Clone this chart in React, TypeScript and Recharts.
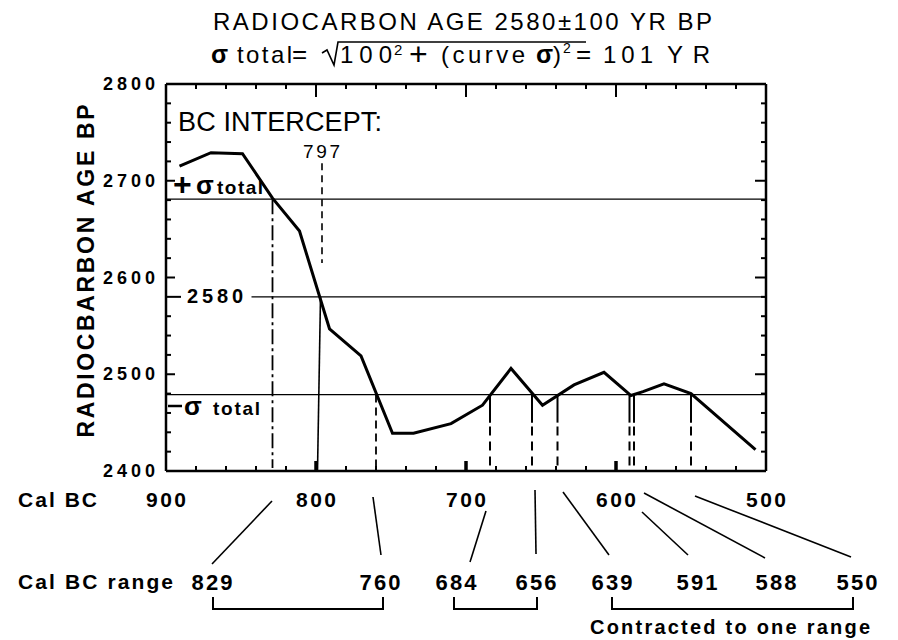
import React from 'react';
import { ComposedChart, Line, XAxis, YAxis, ReferenceLine } from 'recharts';

// ---- data ----
const curveYears = [891, 870, 849, 829, 811, 791, 770, 749, 735, 710, 689, 670, 649, 628, 608, 590, 582, 568, 550, 507];
const curveAges = [2715, 2729, 2728, 2682, 2648, 2547, 2519, 2439, 2439, 2449, 2468, 2506, 2468, 2489, 2502, 2478, 2482, 2490, 2480, 2422];

const measuredAge = 2580;
const sigmaTotal = 101;
const interceptYear = 797;
const upperInterceptYears = [829];
const dashedInterceptYears = [760];
const lowerInterceptYears = [684, 656, 639, 591, 588, 550];
const rangeLabels = ['829', '760', '684', '656', '639', '591', '588', '550'];
const xTicks = [500, 520, 540, 560, 580, 600, 620, 640, 660, 680, 700, 720, 740, 760, 780, 800, 820, 840, 860, 880, 900];
const yTicks = [2400, 2420, 2440, 2460, 2480, 2500, 2520, 2540, 2560, 2580, 2600, 2620, 2640, 2660, 2680, 2700, 2720, 2740, 2760, 2780, 2800];

const curveData = curveYears.map((year, i) => ({ year, age: curveAges[i] }));

// ---- layout ----
const W = 898;
const H = 640;
const PLOT_LEFT = 166;
const PLOT_TOP = 84;
const PLOT_W = 600;
const PLOT_H = 387;
const AX = 1; // axis band size
const FONT = '"Liberation Sans", Arial, Helvetica, sans-serif';

const X_MIN = 500;
const X_MAX = 900;
const Y_MIN = 2400;
const Y_MAX = 2800;

// tick-mark placement helpers (same linear axes as the chart)
const tickX = (v: number) => PLOT_LEFT + ((X_MAX - v) / (X_MAX - X_MIN)) * PLOT_W;
const tickY = (v: number) => PLOT_TOP + ((Y_MAX - v) / (Y_MAX - Y_MIN)) * PLOT_H;

const BottomLabel = (props: any) => {
  const { x, payload } = props;
  const v = payload.value as number;
  if (v % 100 !== 0) return <g />;
  return (
    <text x={x} y={PLOT_TOP + PLOT_H + 36} textAnchor="middle" fontFamily={FONT} fontWeight="bold" fontSize={21} textLength={40} fill="#000">
      {v}
    </text>
  );
};

const LeftLabel = (props: any) => {
  const { y, payload } = props;
  const v = payload.value as number;
  if (v % 100 !== 0) return <g />;
  return (
    <text x={PLOT_LEFT - 11} y={y + 6} textAnchor="end" fontFamily={FONT} fontWeight="bold" fontSize={18} textLength={52} fill="#000">
      {v}
    </text>
  );
};

const rangeLabelX = [212, 380, 456, 536, 612, 697, 776, 857];
const leaderLines: [number, number, number, number][] = [
  [272, 501, 212, 564],
  [373, 497, 381, 555],
  [486, 511, 470, 562],
  [535, 490, 536, 554],
  [563, 492, 609, 555],
  [642, 512, 688, 555],
  [644, 493, 765, 558],
  [695, 496, 851, 557],
];
const brackets: [number, number][] = [
  [213, 383],
  [454, 537],
  [612, 853],
];

const RL = (p: any) => <ReferenceLine xAxisId="bottom" yAxisId="left" stroke="#000" {...p} />;

export default function App() {
  const upper = measuredAge + sigmaTotal;
  const lower = measuredAge - sigmaTotal;
  const axisLine = { stroke: '#000', strokeWidth: 2.5 };
  const innerX = xTicks.filter((v) => v !== X_MIN && v !== X_MAX);
  const innerY = yTicks.filter((v) => v !== Y_MIN && v !== Y_MAX);
  const bottom = PLOT_TOP + PLOT_H;
  const right = PLOT_LEFT + PLOT_W;
  return (
    <div style={{ position: 'absolute', left: 0, top: 0, width: W, height: H, background: '#fff' }}>
      <ComposedChart
        width={W}
        height={H}
        data={curveData}
        margin={{
          top: PLOT_TOP - AX,
          left: PLOT_LEFT - AX,
          right: W - PLOT_LEFT - PLOT_W - AX,
          bottom: H - PLOT_TOP - PLOT_H - AX,
        }}
      >
        <XAxis
          xAxisId="bottom"
          dataKey="year"
          type="number"
          domain={[X_MIN, X_MAX]}
          reversed
          ticks={xTicks}
          interval={0}
          height={AX}
          tickSize={0}
          tickMargin={0}
          tickLine={false}
          axisLine={axisLine}
          tick={<BottomLabel />}
          allowDataOverflow
        />
        <XAxis
          xAxisId="top"
          orientation="top"
          dataKey="year"
          type="number"
          domain={[X_MIN, X_MAX]}
          reversed
          height={AX}
          tickLine={false}
          axisLine={axisLine}
          tick={false}
          allowDataOverflow
        />
        <YAxis
          yAxisId="left"
          dataKey="age"
          type="number"
          domain={[Y_MIN, Y_MAX]}
          ticks={yTicks}
          interval={0}
          width={AX}
          tickSize={0}
          tickMargin={0}
          tickLine={false}
          axisLine={axisLine}
          tick={<LeftLabel />}
          allowDataOverflow
        />
        <YAxis
          yAxisId="right"
          orientation="right"
          dataKey="age"
          type="number"
          domain={[Y_MIN, Y_MAX]}
          width={AX}
          tickLine={false}
          axisLine={axisLine}
          tick={false}
          allowDataOverflow
        />

        {/* sigma lines */}
        <RL y={upper} strokeWidth={1.3} />
        <RL y={lower} strokeWidth={1.3} />
        <RL segment={[{ x: 843, y: measuredAge }, { x: X_MIN, y: measuredAge }]} strokeWidth={1.3} />
        {/* intercept label leader */}
        <RL segment={[{ x: 796, y: 2718 }, { x: 796, y: 2615 }]} strokeWidth={1.6} strokeDasharray="7 5" />
        {/* drop lines */}
        <RL segment={[{ x: interceptYear, y: measuredAge }, { x: interceptYear + 2, y: Y_MIN }]} strokeWidth={1.6} />
        {upperInterceptYears.map((yr) => (
          <RL key={'u' + yr} segment={[{ x: yr, y: upper }, { x: yr, y: 2403 }]} strokeWidth={1.8} strokeDasharray="15 4 3 4" />
        ))}
        {dashedInterceptYears.map((yr) => (
          <RL key={'d' + yr} segment={[{ x: yr, y: lower }, { x: yr, y: 2403 }]} strokeWidth={1.8} strokeDasharray="8 5" />
        ))}
        {lowerInterceptYears.map((yr) => (
          <RL key={'ls' + yr} segment={[{ x: yr, y: lower }, { x: yr, y: 2450 }]} strokeWidth={2} />
        ))}
        {lowerInterceptYears.map((yr) => (
          <RL key={'ld' + yr} segment={[{ x: yr, y: 2446 }, { x: yr, y: 2402 }]} strokeWidth={2} strokeDasharray="9 6" />
        ))}
        <Line
          xAxisId="bottom"
          yAxisId="left"
          dataKey="age"
          type="linear"
          stroke="#000"
          strokeWidth={3}
          dot={false}
          activeDot={false}
          isAnimationActive={false}
        />
      </ComposedChart>

      <svg width={W} height={H} style={{ position: 'absolute', left: 0, top: 0, pointerEvents: 'none' }} fontFamily={FONT} fill="#000">
        {/* inward tick marks on all four sides */}
        {innerX.map((v) => {
          const major = v % 100 === 0;
          const x = tickX(v);
          return (
            <g key={'xt' + v}>
              <line x1={x} y1={bottom} x2={x} y2={bottom - (major ? 10 : 5)} stroke="#000" strokeWidth={major ? 3.5 : 2} />
              <line x1={x} y1={PLOT_TOP} x2={x} y2={PLOT_TOP + (major ? 13 : 5)} stroke="#000" strokeWidth={2} />
            </g>
          );
        })}
        {innerY.map((v) => {
          const major = v % 100 === 0;
          const y = tickY(v);
          const lenL = v === measuredAge ? 15 : major ? 9 : 5;
          return (
            <g key={'yt' + v}>
              <line x1={PLOT_LEFT} y1={y} x2={PLOT_LEFT + lenL} y2={y} stroke="#000" strokeWidth={2} />
              <line x1={right} y1={y} x2={right - (major ? 11 : 5)} y2={y} stroke="#000" strokeWidth={2} />
            </g>
          );
        })}

        {/* title line 1 */}
        <text x={213} y={30} fontSize={24} textLength={499}>RADIOCARBON AGE 2580±100 YR BP</text>
        {/* title line 2 */}
        <text x={211} y={63} fontSize={25} fontWeight="bold">σ</text>
        <text x={237} y={63} fontSize={24} textLength={55}>total</text>
        <text x={292} y={63} fontSize={26}>=</text>
        <path d="M322,53 L327,50 L334,65 L338,42 L586,42" stroke="#000" strokeWidth={1.6} fill="none" />
        <text x={340} y={63} fontSize={24} textLength={52}>100</text>
        <text x={394} y={55} fontSize={15}>2</text>
        <text x={409} y={65} fontSize={32}>+</text>
        <text x={441} y={63} fontSize={24} textLength={84}>(curve</text>
        <text x={536} y={63} fontSize={25} fontWeight="bold">σ</text>
        <text x={553} y={63} fontSize={24}>)</text>
        <text x={563} y={53} fontSize={14}>2</text>
        <text x={576} y={63} fontSize={26}>=</text>
        <text x={603} y={63} fontSize={24} textLength={50}>101</text>
        <text x={667} y={63} fontSize={24} textLength={43}>YR</text>

        {/* y-axis title */}
        <text transform="translate(94,271) rotate(-90)" textAnchor="middle" fontSize={23} fontWeight="bold" textLength={333}>
          RADIOCBARBON AGE BP
        </text>

        {/* in-plot labels */}
        <text x={178} y={131} fontSize={27} textLength={204}>BC INTERCEPT:</text>
        <text x={303} y={158} fontSize={19} textLength={37}>797</text>
        <text x={173} y={195} fontSize={32} fontWeight="bold">+</text>
        <text x={196} y={194} fontSize={26} fontWeight="bold">σ</text>
        <text x={217} y={194} fontSize={19} fontWeight="bold" textLength={46}>total</text>
        <line x1={168} y1={406} x2={182} y2={406} stroke="#000" strokeWidth={2.5} />
        <text x={184} y={415} fontSize={26} fontWeight="bold">σ</text>
        <text x={213} y={415} fontSize={19} fontWeight="bold" textLength={47}>total</text>
        <text x={187} y={303} fontSize={20} fontWeight="bold" textLength={56}>2580</text>

        {/* bottom annotation */}
        <text x={18} y={507} fontSize={21} fontWeight="bold" textLength={79}>Cal BC</text>
        <text x={18} y={589} fontSize={21} fontWeight="bold" textLength={155}>Cal BC range</text>
        {rangeLabels.map((s, i) => (
          <text key={s} x={rangeLabelX[i]} y={590} textAnchor="middle" fontSize={22} fontWeight="bold" textLength={41}>
            {s}
          </text>
        ))}
        {leaderLines.map((l, i) => (
          <line key={i} x1={l[0]} y1={l[1]} x2={l[2]} y2={l[3]} stroke="#000" strokeWidth={1.6} />
        ))}
        {brackets.map((b, i) => (
          <path key={i} d={`M${b[0]},597 L${b[0]},609 L${b[1]},609 L${b[1]},597`} stroke="#000" strokeWidth={2} fill="none" />
        ))}
        <text x={590} y={634} fontSize={20} fontWeight="bold" textLength={280}>Contracted to one range</text>
      </svg>
    </div>
  );
}
